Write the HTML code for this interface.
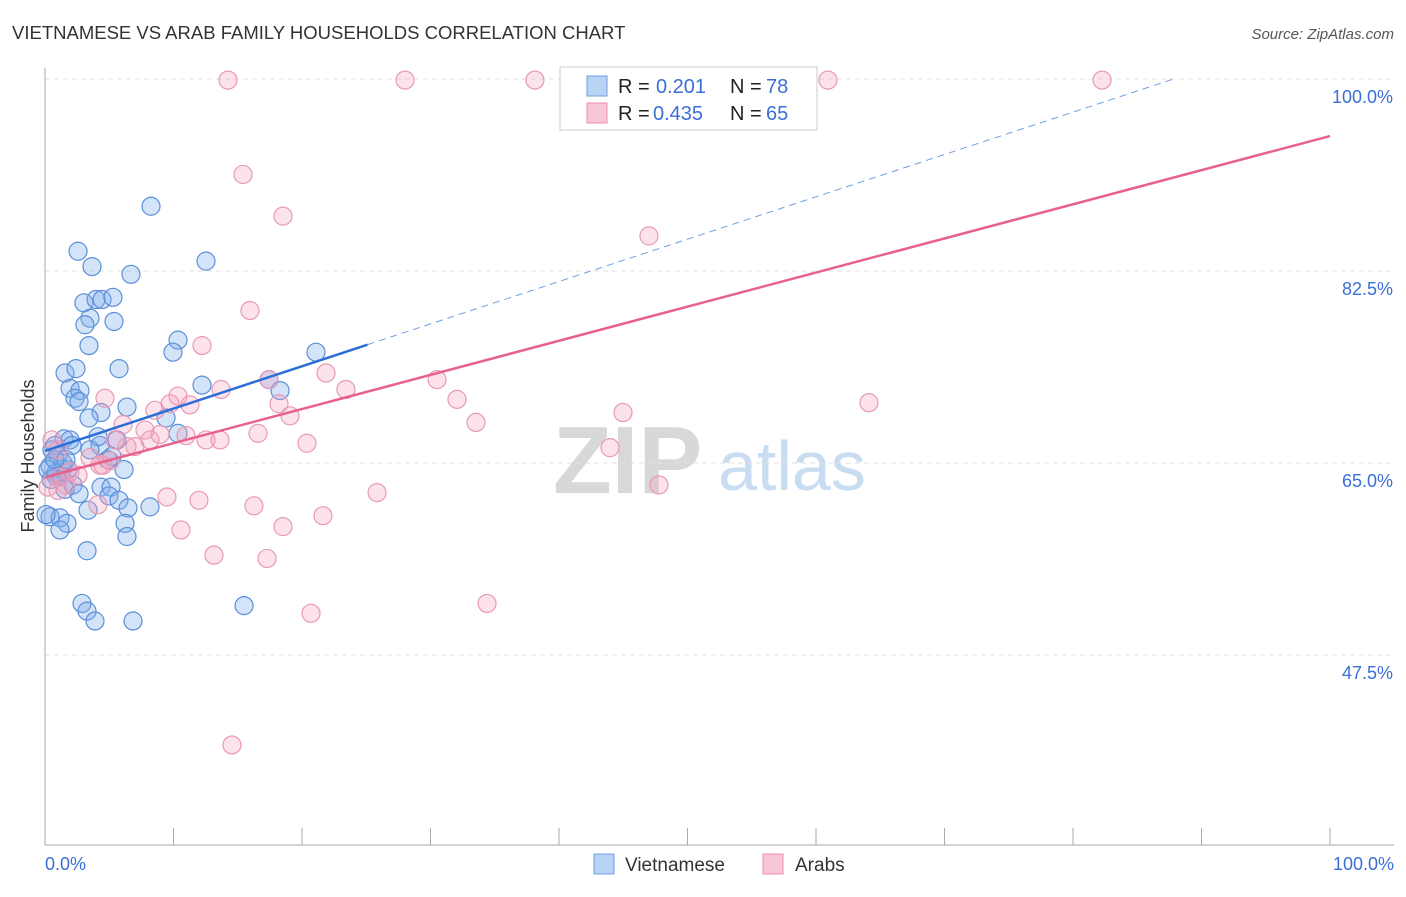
<!DOCTYPE html>
<html><head><meta charset="utf-8"><style>
body{margin:0;background:#fff;font-family:"Liberation Sans",sans-serif;}
svg text{font-family:"Liberation Sans",sans-serif;}
</style></head><body>
<svg id="chart" width="1406" height="892" viewBox="0 0 1406 892">
<text x="12" y="39" font-size="18.5" fill="#333">VIETNAMESE VS ARAB FAMILY HOUSEHOLDS CORRELATION CHART</text>
<text x="1394" y="39" font-size="15" fill="#555" text-anchor="end" font-style="italic">Source: ZipAtlas.com</text>
<g>
<text x="553" y="493" font-size="96" fill="#d8d8d8" font-family="Liberation Serif" font-weight="bold">ZIP</text>
<text x="718" y="490" font-size="70" fill="#c8dcf2">atlas</text>
</g>
<g id="grid"></g>
<g id="axes"></g>
<g id="pts"></g>
<g id="trends"></g>
<text transform="translate(34,456) rotate(-90)" font-size="18" fill="#333" text-anchor="middle">Family Households</text>
<g>
<rect x="560" y="67" width="257" height="63" fill="#fff" stroke="#ccc"/>
<rect x="587" y="76" width="20" height="20" fill="#b9d3f5" stroke="#6f9fe0"/>
<text x="618" y="93" font-size="20" fill="#222">R = </text><text x="656" y="93" font-size="20" fill="#3a6fd8">0.201</text>
<text x="730" y="93" font-size="20" fill="#222">N = </text><text x="766" y="93" font-size="20" fill="#3a6fd8">78</text>
<rect x="587" y="103" width="20" height="20" fill="#f8c6d6" stroke="#ec8fb0"/>
<text x="618" y="120" font-size="20" fill="#222">R = </text><text x="653" y="120" font-size="20" fill="#3a6fd8">0.435</text>
<text x="730" y="120" font-size="20" fill="#222">N = </text><text x="766" y="120" font-size="20" fill="#3a6fd8">65</text>
</g>
<g>
<rect x="594" y="854" width="20" height="20" fill="#b9d3f5" stroke="#6f9fe0"/>
<text x="625" y="871" font-size="19" fill="#333">Vietnamese</text>
<rect x="763" y="854" width="20" height="20" fill="#f8c6d6" stroke="#ec8fb0"/>
<text x="795" y="871" font-size="19" fill="#333">Arabs</text>
</g>
</svg>
<script>
const blueX=[8.25,2.57,3.66,6.69,12.53,3.03,3.97,4.44,5.29,3.5,3.11,5.37,3.42,10.35,9.96,21.09,1.56,2.41,5.76,1.95,2.72,2.33,2.65,4.36,6.38,9.42,3.42,12.22,18.29,17.43,4.28,4.12,1.48,1.95,2.1,5.6,10.35,0.54,1.01,4.9,5.21,0.39,1.32,1.79,6.15,0.86,1.25,0.47,2.18,1.56,2.65,4.36,5.14,4.98,5.76,3.35,6.46,8.17,0.39,1.17,1.71,6.23,6.38,1.17,3.27,2.88,3.27,3.89,6.85,15.49,0.86,0.78,1.4,0.23,1.63,3.5,0.78,0.08];
const blueY=[88.4,84.3,82.9,82.2,83.4,79.6,79.9,79.9,80.1,78.2,77.6,77.9,75.7,76.2,75.1,75.1,73.2,73.6,73.6,71.8,71.6,70.9,70.6,69.6,70.1,69.1,69.1,72.1,71.6,72.6,66.6,67.4,67.2,67.1,66.6,67.1,67.7,66.2,65.7,65.3,65.6,64.7,64.4,64.4,64.4,63.8,63.8,63.5,63.0,62.6,62.2,62.8,62.8,62.0,61.6,60.7,60.9,61.0,60.1,60.0,59.5,59.5,58.3,58.9,57.0,52.2,51.5,50.6,50.6,52.0,64.1,66.6,65.0,64.4,65.3,66.2,65.3,60.3];
const pinkX=[14.24,28.02,38.13,60.93,82.26,15.41,18.52,47.0,15.95,12.22,21.87,17.43,23.42,30.51,32.06,33.54,13.7,10.35,9.73,11.28,8.56,4.67,6.07,7.78,8.95,10.97,12.53,13.62,16.58,18.21,19.07,20.39,44.98,43.97,64.12,47.78,25.84,9.49,11.98,16.26,21.63,18.52,10.58,13.15,17.28,20.7,34.4,14.55,0.54,1.01,3.5,4.28,2.57,1.17,1.63,1.01,5.06,6.38,7.0,4.12,0.23,5.45,1.95,8.17,4.51];
const pinkY=[99.9,99.9,99.9,99.9,99.9,91.3,87.5,85.7,78.9,75.7,73.2,72.6,71.7,72.6,70.8,68.7,71.7,71.1,70.4,70.3,69.8,70.9,68.5,68.0,67.6,67.5,67.1,67.1,67.7,70.4,69.3,66.8,69.6,66.4,70.5,63.0,62.3,61.9,61.6,61.1,60.2,59.2,58.9,56.6,56.3,51.3,52.2,39.3,67.1,66.2,65.5,64.8,63.9,63.7,63.0,62.5,65.2,66.5,66.5,61.2,62.8,67.1,64.2,67.1,64.8];
const yTicks=[100,82.5,65,47.5];
const yTickLabels=["100.0%","82.5%","65.0%","47.5%"];
const xTickLabels=["0.0%","100.0%"];
const blueTrend=[66.1,0.386,25.1];
const pinkTrend=[63.7,0.311,100];

const NS="http://www.w3.org/2000/svg";
const X=v=>45+v*12.85;
const Y=v=>79+(100-v)*192/17.5;
function mk(tag,attrs,parent){const e=document.createElementNS(NS,tag);for(const k in attrs)e.setAttribute(k,attrs[k]);document.getElementById(parent).appendChild(e);return e;}
yTicks.forEach((t,i)=>{
  const l=mk('line',{x1:45,x2:1394,y1:Y(t),y2:Y(t),stroke:'#e2e2e2','stroke-dasharray':'5,4'},'grid');
  
  
  const tx=mk('text',{x:1393,y:Y(t)+24,'font-size':18,fill:'#3a6fd8','text-anchor':'end'},'grid');
  tx.textContent=yTickLabels[i];
  
  
});
let ax=mk('line',{x1:45,x2:45,y1:68,y2:845,stroke:'#aaa'},'axes');


ax=mk('line',{x1:45,x2:1394,y1:845,y2:845,stroke:'#aaa'},'axes');


for(let k=0;k<=10;k++){
  const t=mk('line',{x1:X(k*10),x2:X(k*10),y1:828,y2:845,stroke:'#aaa'},'axes');
  
  
}
let xl=mk('text',{x:45,y:870,'font-size':18,fill:'#3a6fd8'},'axes');xl.textContent=xTickLabels[0];


xl=mk('text',{x:1394,y:870,'font-size':18,fill:'#3a6fd8','text-anchor':'end'},'axes');xl.textContent=xTickLabels[1];


blueX.forEach((x,i)=>{
  const c=mk('circle',{cx:X(x),cy:Y(blueY[i]),r:9,fill:'rgba(130,175,235,0.35)',stroke:'#5b8fd9','stroke-width':1.2},'pts');
  
  
});
pinkX.forEach((x,i)=>{
  const c=mk('circle',{cx:X(x),cy:Y(pinkY[i]),r:9,fill:'rgba(245,160,190,0.3)',stroke:'#e899b4','stroke-width':1.2},'pts');
  
  
});
const bEnd=blueTrend[0]+blueTrend[1]*blueTrend[2];
let tl=mk('line',{x1:X(0),y1:Y(blueTrend[0]),x2:X(blueTrend[2]),y2:Y(bEnd),stroke:'#2c6ed8','stroke-width':2.5},'trends');


const bx100=(100-blueTrend[0])/blueTrend[1];
tl=mk('line',{x1:X(blueTrend[2]),y1:Y(bEnd),x2:X(bx100),y2:Y(100),stroke:'#6f9fe0','stroke-width':1,'stroke-dasharray':'7,5'},'trends');


tl=mk('line',{x1:X(0),y1:Y(pinkTrend[0]),x2:X(pinkTrend[2]),y2:Y(pinkTrend[0]+pinkTrend[1]*pinkTrend[2]),stroke:'#e8608c','stroke-width':2.5},'trends');


</script>
</body></html>
